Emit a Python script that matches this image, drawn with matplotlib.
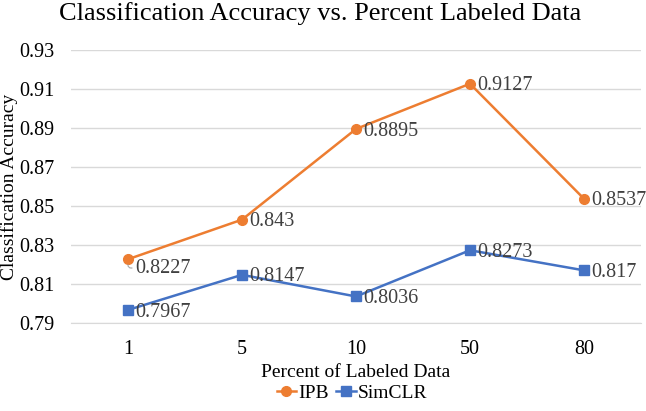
import matplotlib.pyplot as plt
import numpy as np

plt.rcParams['font.family'] = ['Liberation Serif', 'DejaVu Serif']

cats = ['1', '5', '10', '50', '80']
ipb = [0.8227, 0.843, 0.8895, 0.9127, 0.8537]
simclr = [0.7967, 0.8147, 0.8036, 0.8273, 0.817]
ipb_lbl = ['0.8227', '0.843', '0.8895', '0.9127', '0.8537']
sim_lbl = ['0.7967', '0.8147', '0.8036', '0.8273', '0.817']

orange = '#ED7D31'
blue = '#4472C4'
grey = '#404040'

fig = plt.figure(figsize=(6.46, 4.11), dpi=100)
ax = fig.add_axes([71/646, 1-323/411, 570/646, 273/411])

x = np.arange(len(cats))
ax.plot(x, ipb, color=orange, lw=1.8, marker='o', ms=7, label='IPB', zorder=3)
ax.plot(x, simclr, color=blue, lw=1.8, marker='s', ms=7, label='SimCLR', zorder=3)

for i in range(len(cats)):
    if i == 0:
        ax.annotate(ipb_lbl[i], (x[i], ipb[i]), xytext=(x[i] + 0.06, ipb[i] - 0.0045),
                    fontsize=14.5, color=grey, va='center', ha='left',
                    arrowprops=dict(arrowstyle='-', color='#A6A6A6', lw=0.8,
                                    connectionstyle='angle,angleA=0,angleB=90,rad=3',
                                    shrinkA=0, shrinkB=4))
    else:
        ax.annotate(ipb_lbl[i], (x[i], ipb[i]), xytext=(5, -1.5), textcoords='offset points',
                    fontsize=14.5, color=grey, va='center', ha='left')
    ax.annotate(sim_lbl[i], (x[i], simclr[i]), xytext=(5, -1.5), textcoords='offset points',
                fontsize=14.5, color=grey, va='center', ha='left')

ax.set_xlim(-0.5, len(cats) - 0.5)
ax.set_ylim(0.79, 0.93)
ax.set_yticks(np.arange(0.79, 0.9301, 0.02))
ax.set_yticklabels(['%.2f' % v for v in np.arange(0.79, 0.9301, 0.02)])
ax.set_xticks(x)
ax.set_xticklabels(cats)
ax.grid(axis='y', color='#D9D9D9', lw=1)
ax.set_axisbelow(True)
for s in ['top', 'right', 'left']:
    ax.spines[s].set_visible(False)
ax.spines['bottom'].set_color('#D9D9D9')
ax.tick_params(axis='both', length=0, labelsize=14.5, colors='black')
ax.tick_params(axis='x', pad=12)
ax.tick_params(axis='y', pad=12)

fig.text(356/646, 1 - 372/411, 'Percent of Labeled Data', fontsize=14, ha='center', va='center')
ax.set_ylabel('Classification Accuracy', fontsize=14, labelpad=1)
fig.text(320/646, 1 - 14/411, 'Classification Accuracy vs. Percent Labeled Data',
         fontsize=19, ha='center', va='center')

fig.legend(loc='center', bbox_to_anchor=(352/646, 1 - 393/411), ncol=2, frameon=False,
           fontsize=14, handlelength=1.0, handletextpad=0.1, columnspacing=0.4,
           borderpad=0, borderaxespad=0)

fig.savefig('out.png', dpi=100)
